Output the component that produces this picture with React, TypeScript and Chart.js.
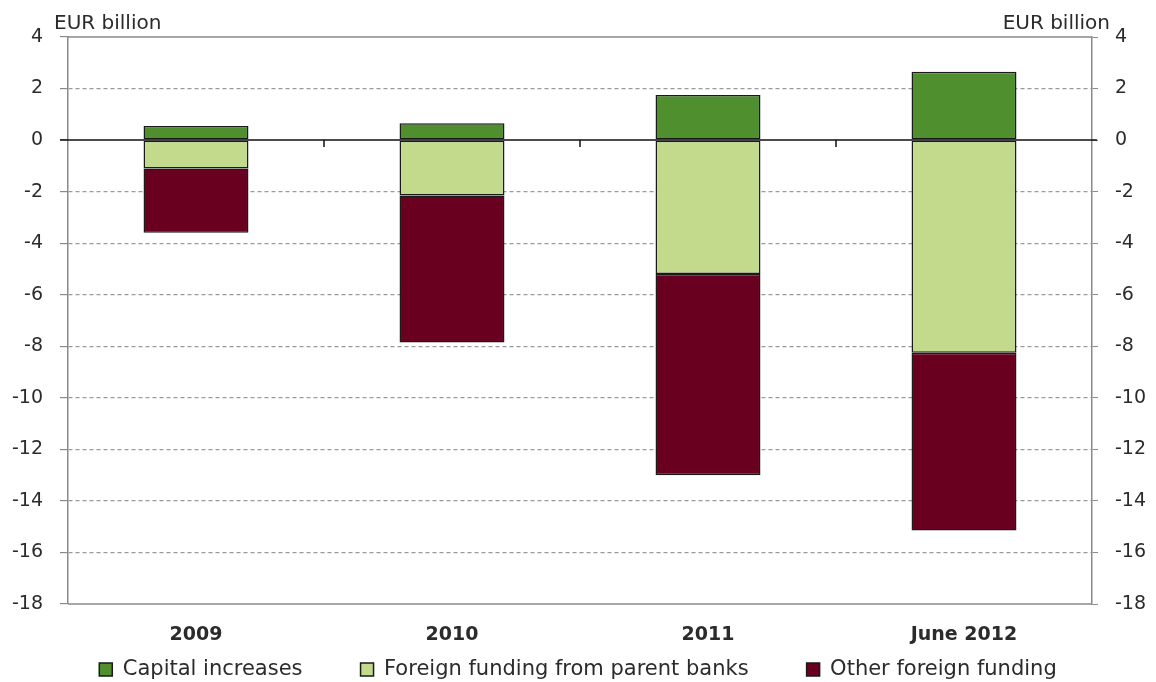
import React, { useEffect, useRef } from "react";
import { Chart, registerables } from "chart.js";

Chart.register(...registerables);

const categories = ["2009", "2010", "2011", "June 2012"];
const capitalIncreases = [0.55, 0.65, 1.75, 2.65];
const parentFunding = [-1.1, -2.15, -5.2, -8.25];
const otherFunding = [-2.5, -5.7, -7.8, -6.9];
const yTicks = [4, 2, 0, -2, -4, -6, -8, -10, -12, -14, -16, -18];
const unitLabel = "EUR billion";

const FONT = "'DejaVu Sans', sans-serif";
const TEXT = "#2b2b2b";
const LEGEND_GAP = 58;

const legendShiftPlugin = {
  id: "legendShift",
  afterLayout(chart: any) {
    const lg = chart.legend;
    if (!lg) return;
    const shift = chart.chartArea.bottom - 3 - lg.top;
    lg.top += shift;
    lg.bottom += shift;
  },
};

const framePlugin = {
  id: "frame",
  afterDatasetsDraw(chart: any) {
    const { ctx, chartArea: a, scales } = chart;
    const y = scales.y;
    const x = scales.x;
    ctx.save();
    ctx.strokeStyle = "#8a8a8a";
    ctx.lineWidth = 1.5;
    ctx.beginPath();
    ctx.moveTo(a.left, a.top);
    ctx.lineTo(a.right, a.top);
    ctx.moveTo(a.left, a.bottom);
    ctx.lineTo(a.right, a.bottom);
    ctx.stroke();
    const z = y.getPixelForValue(0);
    ctx.strokeStyle = "#111";
    ctx.lineWidth = 1.5;
    ctx.beginPath();
    ctx.moveTo(a.left - 8, z);
    ctx.lineTo(a.right + 5, z);
    for (let i = 1; i < categories.length; i++) {
      const px = (x.getPixelForValue(i - 1) + x.getPixelForValue(i)) / 2;
      ctx.moveTo(px, z);
      ctx.lineTo(px, z + 7);
    }
    ctx.stroke();
    ctx.fillStyle = TEXT;
    ctx.font = `20px ${FONT}`;
    ctx.textBaseline = "bottom";
    ctx.textAlign = "left";
    ctx.fillText(unitLabel, a.left - 14, a.top - 3);
    ctx.textAlign = "right";
    ctx.fillText(unitLabel, a.right + 18, a.top - 3);
    ctx.restore();
  },
};

export default function App() {
  const ref = useRef<HTMLCanvasElement | null>(null);
  useEffect(() => {
    document.body.style.margin = "0";
    const tickFont = { family: FONT, size: 19 };
    const chart = new Chart(ref.current as HTMLCanvasElement, {
      type: "bar",
      data: {
        labels: categories,
        datasets: [
          {
            label: "Capital increases",
            data: capitalIncreases,
            backgroundColor: "#4f8f2e",
            borderColor: "#1a1a1a",
            borderWidth: 1.5,
            borderSkipped: false,
          },
          {
            label: "Foreign funding from parent banks",
            data: parentFunding,
            backgroundColor: "#c3da8c",
            borderColor: "#1a1a1a",
            borderWidth: 1.5,
            borderSkipped: false,
          },
          {
            label: "Other foreign funding",
            data: otherFunding,
            backgroundColor: "#69001f",
            borderColor: "#1a1a1a",
            borderWidth: 1.5,
            borderSkipped: false,
          },
        ],
      },
      options: {
        responsive: false,
        animation: false,
        layout: { padding: { top: 37, left: 0, right: 0, bottom: -55 } },
        datasets: { bar: { barPercentage: 0.41, categoryPercentage: 1 } },
        scales: {
          x: {
            stacked: true,
            grid: { display: false },
            border: { display: false },
            ticks: {
              color: TEXT,
              font: { family: FONT, size: 19, weight: "bold" },
              padding: 12,
              autoSkip: false,
              maxRotation: 0,
            },
            afterFit: (s: any) => {
              s.height = 44;
            },
          },
          y: {
            stacked: true,
            position: "left",
            min: -18,
            max: 4,
            afterBuildTicks: (s: any) => {
              s.ticks = yTicks.map((v) => ({ value: v }));
            },
            ticks: { color: TEXT, font: tickFont, padding: 17 },
            grid: {
              color: (c: any) =>
                c.tick && (c.tick.value === 4 || c.tick.value === -18 || c.tick.value === 0)
                  ? "rgba(0,0,0,0)"
                  : "#9a9a9a",
              lineWidth: 1.2,
              drawTicks: true,
              tickLength: 8,
              tickColor: "#8a8a8a",
            },
            border: { display: true, color: "#8a8a8a", width: 1.5, dash: [4, 3] },
            afterFit: (s: any) => {
              s.width = 68;
            },
          },
          y2: {
            position: "right",
            min: -18,
            max: 4,
            afterBuildTicks: (s: any) => {
              s.ticks = yTicks.map((v) => ({ value: v }));
            },
            ticks: { color: TEXT, font: tickFont, padding: 17 },
            grid: { display: true, drawOnChartArea: false, tickLength: 6, tickColor: "#8a8a8a", color: "#8a8a8a" },
            border: { display: true, color: "#8a8a8a", width: 1.5 },
            afterFit: (s: any) => {
              s.width = 64;
            },
          },
        },
        plugins: {
          legend: {
            position: "bottom",
            labels: {
              color: TEXT,
              font: { family: FONT, size: 21 },
              boxWidth: 13,
              boxHeight: 13,
              padding: LEGEND_GAP,
            },
          },
          tooltip: { enabled: false },
        },
      },
      plugins: [legendShiftPlugin, framePlugin],
    });
    return () => chart.destroy();
  }, []);
  return <canvas ref={ref} width={1156} height={682} style={{ display: "block" }} />;
}
